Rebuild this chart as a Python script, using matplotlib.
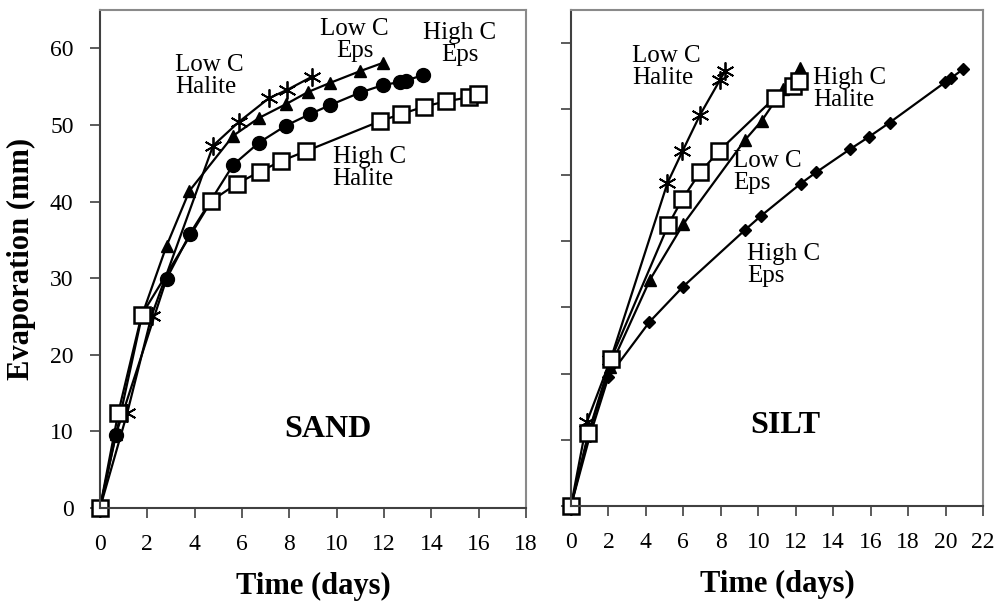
import matplotlib
matplotlib.use('Agg')
import matplotlib.pyplot as plt

plt.rcParams['font.family'] = ['Liberation Serif', 'DejaVu Serif']

# SAND data (days, mm)
sand_lch_days = [0, 1.15, 2.18, 4.78, 5.87, 7.14, 7.92, 8.96]
sand_lch_evap = [0, 12.4, 25.1, 47.3, 50.4, 53.5, 54.6, 56.3]
sand_lce_days = [0, 0.68, 1.78, 2.81, 3.78, 5.63, 6.71, 7.85, 8.79, 9.73, 10.97, 11.95]
sand_lce_evap = [0, 9.6, 25.2, 34.2, 41.4, 48.6, 50.9, 52.7, 54.3, 55.5, 57.0, 58.1]
sand_hce_days = [0, 0.66, 2.81, 3.80, 5.63, 6.72, 7.85, 8.86, 9.73, 10.97, 11.95, 12.66, 12.94, 13.64]
sand_hce_evap = [0, 9.5, 29.9, 35.8, 44.8, 47.7, 49.9, 51.4, 52.6, 54.2, 55.2, 55.6, 55.8, 56.5]
sand_hch_days = [0, 0.77, 1.76, 4.71, 5.77, 6.75, 7.66, 8.72, 11.84, 12.7, 13.71, 14.63, 15.6, 15.96]
sand_hch_evap = [0, 12.4, 25.2, 40.1, 42.3, 43.9, 45.3, 46.6, 50.5, 51.4, 52.4, 53.1, 53.6, 54.1]

# SILT data (days, mm)
silt_lch_days = [0, 0.85, 2.1, 5.15, 5.95, 6.89, 7.96, 8.22]
silt_lch_evap = [0, 12.7, 22.0, 48.8, 53.6, 59.1, 64.4, 65.7]
silt_hch_days = [0, 0.93, 2.14, 5.2, 5.95, 6.89, 7.92, 10.88, 11.87, 12.2]
silt_hch_evap = [0, 11.0, 22.2, 42.5, 46.4, 50.4, 53.7, 61.7, 63.5, 64.2]
silt_lce_days = [0, 1.0, 2.1, 4.22, 6.0, 9.29, 10.18, 11.33, 12.22]
silt_lce_evap = [0, 11.5, 21.0, 34.2, 42.6, 55.3, 58.2, 63.0, 66.2]
silt_hce_days = [0, 1.0, 2.0, 4.19, 5.97, 9.29, 10.13, 12.26, 13.08, 14.89, 15.92, 17.02, 19.96, 20.31, 20.93]
silt_hce_evap = [0, 10.5, 19.5, 27.8, 33.1, 41.7, 43.8, 48.7, 50.4, 53.9, 55.8, 57.95, 64.0, 64.7, 66.0]

sand_xticks = list(range(0, 19, 2))
silt_xticks = list(range(0, 23, 2))

fig = plt.figure(figsize=(10, 6.08), dpi=100)
ax1 = fig.add_axes([0.100, 0.1645, 0.426, 0.819])
ax2 = fig.add_axes([0.571, 0.168, 0.412, 0.816])

star = (6, 2, 0)
lw = 1.6


def style_axes(ax):
    for s in ['top', 'right']:
        ax.spines[s].set_color('#8a8a8a')
        ax.spines[s].set_linewidth(1.5)
    for s in ['left', 'bottom']:
        ax.spines[s].set_color('#404040')
        ax.spines[s].set_linewidth(1.5)
    ax.tick_params(axis='both', direction='out', length=7, width=1.2,
                   color='#404040', labelsize=17, pad=12)


# SAND panel
ax1.plot(sand_lch_days, sand_lch_evap, color='black', lw=lw, marker=star,
         ms=13, mew=1.3, clip_on=False)
ax1.plot(sand_lce_days, sand_lce_evap, color='black', lw=lw, marker='^',
         ms=9, clip_on=False)
ax1.plot(sand_hce_days, sand_hce_evap, color='black', lw=lw, marker='o',
         ms=10, clip_on=False)
ax1.plot(sand_hch_days, sand_hch_evap, color='black', lw=lw, marker='s',
         ms=12, mfc='white', mew=1.8, clip_on=False)
ax1.set_xlim(0, 18)
ax1.set_ylim(0, 65)
ax1.set_xticks(sand_xticks)
ax1.set_yticks(range(0, 61, 10))
style_axes(ax1)
ax1.set_xlabel('Time (days)', fontsize=22, fontweight='bold', labelpad=12)
ax1.set_ylabel('Evaporation (mm)', fontsize=22, fontweight='bold', labelpad=10)

ax1.text(3.16, 59.2, 'Low C\nHalite', fontsize=18, ha='left', va='top', linespacing=1.0)
ax1.text(10.76, 63.9, 'Low C\nEps', fontsize=18, ha='center', va='top', linespacing=1.0)
ax1.text(15.19, 63.5, 'High C\nEps', fontsize=18, ha='center', va='top', linespacing=1.0)
ax1.text(9.83, 47.3, 'High C\nHalite', fontsize=18, ha='left', va='top', linespacing=1.0)
ax1.text(7.8, 10.3, 'SAND', fontsize=23, fontweight='bold', ha='left', va='center')

# SILT panel
ax2.plot(silt_hce_days, silt_hce_evap, color='black', lw=lw, marker='D',
         ms=6, clip_on=False)
ax2.plot(silt_lch_days, silt_lch_evap, color='black', lw=lw, marker=star,
         ms=13, mew=1.3, clip_on=False)
ax2.plot(silt_lce_days, silt_lce_evap, color='black', lw=lw, marker='^',
         ms=9, clip_on=False)
ax2.plot(silt_hch_days, silt_hch_evap, color='black', lw=lw, marker='s',
         ms=12, mfc='white', mew=1.8, clip_on=False)
ax2.set_xlim(0, 22)
ax2.set_ylim(0, 75)
ax2.set_xticks(silt_xticks)
ax2.set_yticks(range(0, 71, 10))
style_axes(ax2)
ax2.tick_params(axis='y', labelleft=False)
ax2.set_xlabel('Time (days)', fontsize=22, fontweight='bold', labelpad=12)

ax2.text(3.26, 69.7, 'Low C\nHalite', fontsize=18, ha='left', va='top', linespacing=1.0)
ax2.text(12.92, 66.4, 'High C\nHalite', fontsize=18, ha='left', va='top', linespacing=1.0)
ax2.text(8.65, 53.8, 'Low C\nEps', fontsize=18, ha='left', va='top', linespacing=1.0)
ax2.text(9.4, 39.8, 'High C\nEps', fontsize=18, ha='left', va='top', linespacing=1.0)
ax2.text(9.56, 12.1, 'SILT', fontsize=23, fontweight='bold', ha='left', va='center')

fig.savefig('out.png', dpi=100)
